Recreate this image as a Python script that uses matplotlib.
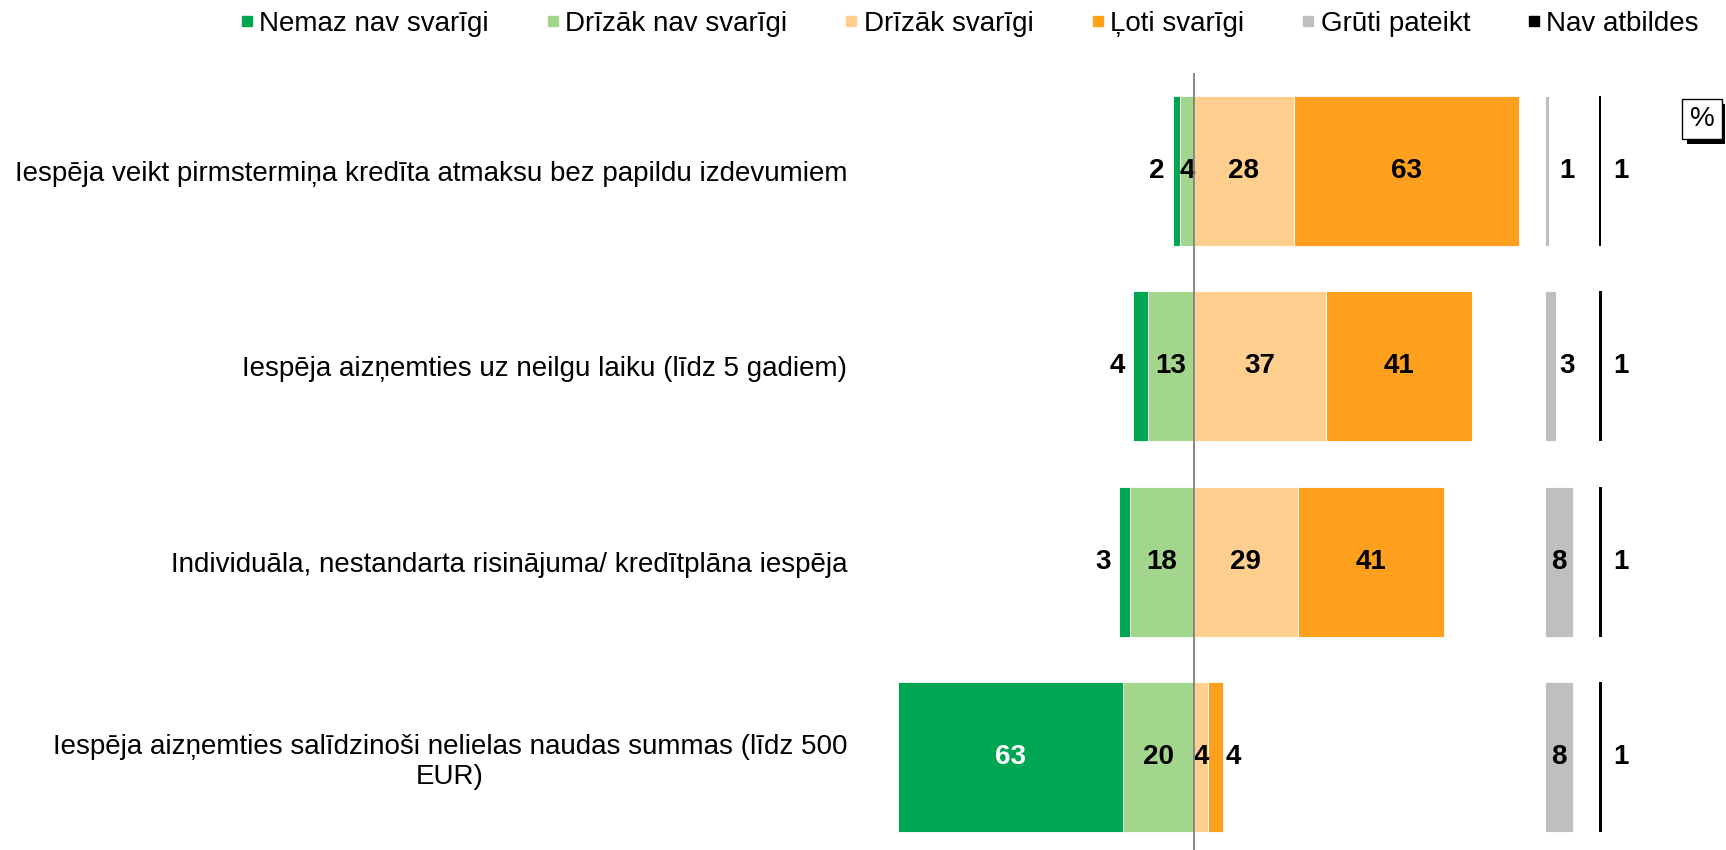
import matplotlib
matplotlib.use("Agg")
import matplotlib.pyplot as plt
from matplotlib.lines import Line2D
from matplotlib.patches import Rectangle
import numpy as np

plt.rcParams["font.family"] = ["Liberation Sans", "DejaVu Sans"]

# data (percent)
categories = [
    "Iespēja veikt pirmstermiņa kredīta atmaksu bez papildu izdevumiem",
    "Iespēja aizņemties uz neilgu laiku (līdz 5 gadiem)",
    "Individuāla, nestandarta risinājuma/ kredītplāna iespēja",
    "Iespēja aizņemties salīdzinoši nelielas naudas summas (līdz 500\nEUR)",
]
nemaz_nav = [2, 4, 3, 63]
drizak_nav = [4, 13, 18, 20]
drizak_ir = [28, 37, 29, 4]
loti = [63, 41, 41, 4]
gruti = [1, 3, 8, 8]
nav_atb = [0.6, 1, 1, 1]

series_names = ["Nemaz nav svarīgi", "Drīzāk nav svarīgi", "Drīzāk svarīgi",
                "Ļoti svarīgi", "Grūti pateikt", "Nav atbildes"]
colors = ["#00A651", "#A2D68C", "#FFCF90", "#FF9F1E", "#BFBFBF", "#000000"]

W, H = 1726, 850
PX_UNIT = 3.57          # pixels per percent point
ZERO_PX = 1194          # x of the centre line
AX_LEFT = 870
ROW_PITCH = 195.3
GRUTI_X = 98.3          # start of the "Grūti pateikt" column
NAV_X = 113.4           # start of the "Nav atbildes" column
BAR_H = 0.768
FS = 20


def _label(ax, x, y, value, color="black", ha="center", dx=0):
    ax.annotate(f"{value:.0f}", (x, y), xytext=(dx, 0), textcoords="offset points",
                ha=ha, va="center", fontsize=FS, fontweight="bold", color=color)


def main() -> None:
    fig = plt.figure(figsize=(W / 100, H / 100), dpi=100)
    ax = fig.add_axes([AX_LEFT / W, 0, 1 - AX_LEFT / W, 1])
    ax.set_xlim(-(ZERO_PX - AX_LEFT) / PX_UNIT, (W - ZERO_PX) / PX_UNIT)
    ybottom = 3 + (H - 757) / ROW_PITCH
    ax.set_ylim(ybottom, -171 / ROW_PITCH)

    y = np.arange(len(categories))
    neg_in = np.array(drizak_nav, dtype=float)
    neg_out = np.array(nemaz_nav, dtype=float)
    pos_in = np.array(drizak_ir, dtype=float)
    pos_out = np.array(loti, dtype=float)
    kw = dict(height=BAR_H, edgecolor="white", linewidth=0.6, zorder=2)

    ax.barh(y, -neg_out, left=-neg_in, color=colors[0], **kw)
    ax.barh(y, -neg_in, left=0, color=colors[1], **kw)
    ax.barh(y, pos_in, left=0, color=colors[2], **kw)
    ax.barh(y, pos_out, left=pos_in, color=colors[3], **kw)
    ax.barh(y, gruti, left=GRUTI_X, color=colors[4], **kw)
    ax.barh(y, nav_atb, left=NAV_X, color=colors[5], height=BAR_H, linewidth=0, zorder=2)

    ax.vlines(0, -0.502, ybottom, color="#7F7F7F", linewidth=1.3, zorder=4)

    for i in y:
        # outer left segment
        if neg_out[i] < 6:
            _label(ax, -neg_in[i] - neg_out[i], i, neg_out[i], ha="right", dx=-6)
        else:
            _label(ax, -neg_in[i] - neg_out[i] / 2, i, neg_out[i], color="white")
        _label(ax, -neg_in[i] / 2, i, neg_in[i])
        _label(ax, pos_in[i] / 2, i, pos_in[i])
        if pos_out[i] < 6:
            _label(ax, pos_in[i] + pos_out[i], i, pos_out[i], ha="left", dx=2.5)
        else:
            _label(ax, pos_in[i] + pos_out[i] / 2, i, pos_out[i])
        for start, val in ((GRUTI_X, gruti[i]), (NAV_X, nav_atb[i])):
            xpos = start + val / 2 if val >= 6 else start + 6.3
            _label(ax, xpos, i, val)

    ax.set_yticks(y, categories, fontsize=FS)
    for t in ax.get_yticklabels():
        t.set_multialignment("center")
    ax.tick_params(axis="y", length=0, pad=16.5)
    ax.set_xticks([])
    for spine in ax.spines.values():
        spine.set_visible(False)

    handles = [Line2D([], [], marker="s", linestyle="", color=c, markersize=7.5) for c in colors]
    fig.legend(handles, series_names, loc="center right", bbox_to_anchor=(1699 / W, 1 - 24 / H),
               ncol=6, frameon=False, fontsize=FS, handlelength=0.5, handletextpad=0.2,
               columnspacing=2.05, borderpad=0, borderaxespad=0)

    # "%" box with shadow
    fig.add_artist(Rectangle((1687 / W, 1 - 144 / H), 38 / W, 40 / H, facecolor="black",
                             transform=fig.transFigure, zorder=5))
    fig.add_artist(Rectangle((1682 / W, 1 - 139 / H), 40 / W, 40 / H, facecolor="white",
                             edgecolor="black", linewidth=1, transform=fig.transFigure, zorder=6))
    fig.text(1702 / W, 1 - 119 / H, "%", ha="center", va="center", fontsize=FS, zorder=7)

    fig.savefig("out.png", dpi=100)
    plt.close(fig)


if __name__ == "__main__":
    main()
